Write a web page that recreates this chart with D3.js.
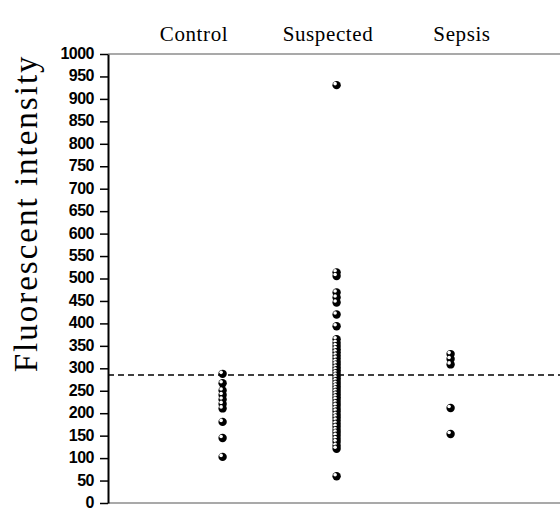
<!DOCTYPE html>
<html>
<head>
<meta charset="utf-8">
<script src="https://cdn.jsdelivr.net/npm/d3@7"></script>
<style>
    body { margin: 0; background: #ffffff; }
    .tickLabel { font-family: "Liberation Sans", Arial, sans-serif; font-weight: bold; font-size: 16px; letter-spacing: -0.5px; }
    .groupLabel { font-family: "Liberation Serif", "DejaVu Serif", serif; font-size: 21px; letter-spacing: 0.6px; }
    .axisTitle { font-family: "Liberation Serif", "DejaVu Serif", serif; font-size: 33px; letter-spacing: 2px; }
</style>
</head>
<body>
<div id="chart"></div>
<script>

// chart data
// chart data

var groups = ["Control", "Suspected", "Sepsis"];

var controlValues = [289, 268, 252, 242, 232, 222, 212, 182, 146, 104];

var suspectedValues = [932, 515, 507, 470, 459, 448, 421, 395,
    366, 358, 351, 344, 337, 330, 323, 316, 310, 303, 297, 291, 285, 279,
    273, 267, 261, 255, 249, 243, 237, 231, 224, 218, 211, 205, 198, 192,
    185, 178, 171, 164, 158, 151, 144, 137, 129, 122, 61];

var sepsisValues = [333, 322, 310, 213, 155];

var yTicks = [0, 50, 100, 150, 200, 250, 300, 350, 400, 450, 500,
    550, 600, 650, 700, 750, 800, 850, 900, 950, 1000];

var cutoff = 285;
var yTitle = "Fluorescent intensity";

var seriesByGroup = [controlValues, suspectedValues, sepsisValues];

var margin = {top: 54, right: 0, bottom: 9, left: 108},
    width = 560 - margin.left - margin.right,
    height = 512 - margin.top - margin.bottom;

var svg = d3.select("#chart").append("svg")
    .attr("width", 560)
    .attr("height", 512)
    .append("g")
    .attr("transform", "translate(" + margin.left + "," + margin.top + ")");

// scales
// scales

var y = d3.scaleLinear()
    .domain([0, 1000])
    .range([height, 0]);

var xPoint = d3.scalePoint()
    .domain(groups)
    .range([114, 342]);

var xLabel = d3.scalePoint()
    .domain(groups)
    .range([86, 354]);

// frame lines (grey top and bottom)
// frame lines (grey top and bottom)

svg.append("line")
    .attr("x1", 0).attr("x2", width)
    .attr("y1", 0).attr("y2", 0)
    .style("stroke", "#8c8c8c")
    .style("stroke-width", 1.5);

svg.append("line")
    .attr("x1", 0).attr("x2", width)
    .attr("y1", height).attr("y2", height)
    .style("stroke", "#8c8c8c")
    .style("stroke-width", 1.5);

// y axis
// y axis

var yAxis = svg.append("g")
    .call(d3.axisLeft(y).tickValues(yTicks).tickFormat(d3.format("d"))
        .tickSize(8).tickPadding(6).tickSizeOuter(0));

yAxis.select(".domain").style("stroke", "#000").style("stroke-width", 2);
yAxis.selectAll(".tick line").style("stroke", "#000").style("stroke-width", 1.5);
yAxis.selectAll(".tick text")
    .attr("class", "tickLabel")
    .style("fill", "#000")
    .attr("dy", "0.28em");

svg.append("text")
    .attr("class", "axisTitle")
    .attr("transform", "rotate(-90)")
    .attr("x", 0 - y(645))
    .attr("y", 37 - margin.left)
    .style("text-anchor", "middle")
    .text(yTitle);

// group labels on top
// group labels on top

svg.selectAll(".groupLabel")
    .data(groups)
    .enter().append("text")
    .attr("class", "groupLabel")
    .attr("x", function(d) { return xLabel(d); })
    .attr("y", -13)
    .style("text-anchor", "middle")
    .text(function(d) { return d; });

// cutoff line
// cutoff line

svg.append("line")
    .attr("x1", 0).attr("x2", width)
    .attr("y1", y(cutoff)).attr("y2", y(cutoff))
    .style("stroke", "#000")
    .style("stroke-width", 1.5)
    .style("stroke-dasharray", "6,4");

// points
// points

var points = [];
groups.forEach(function(g, i) {
    seriesByGroup[i].forEach(function(v) { points.push({group: g, value: v}); });
});

var marks = svg.selectAll(".pt")
    .data(points)
    .enter().append("g")
    .attr("class", "pt")
    .attr("transform", function(d) { return "translate(" + xPoint(d.group) + "," + y(d.value) + ")"; });

marks.append("circle")
    .attr("cx", 0.6).attr("cy", 0.6)
    .attr("r", 4.2)
    .style("fill", "#000");

marks.append("circle")
    .attr("cx", -0.9).attr("cy", -0.9)
    .attr("r", 1.8)
    .style("fill", "#fff");

</script>
</body>
</html>
